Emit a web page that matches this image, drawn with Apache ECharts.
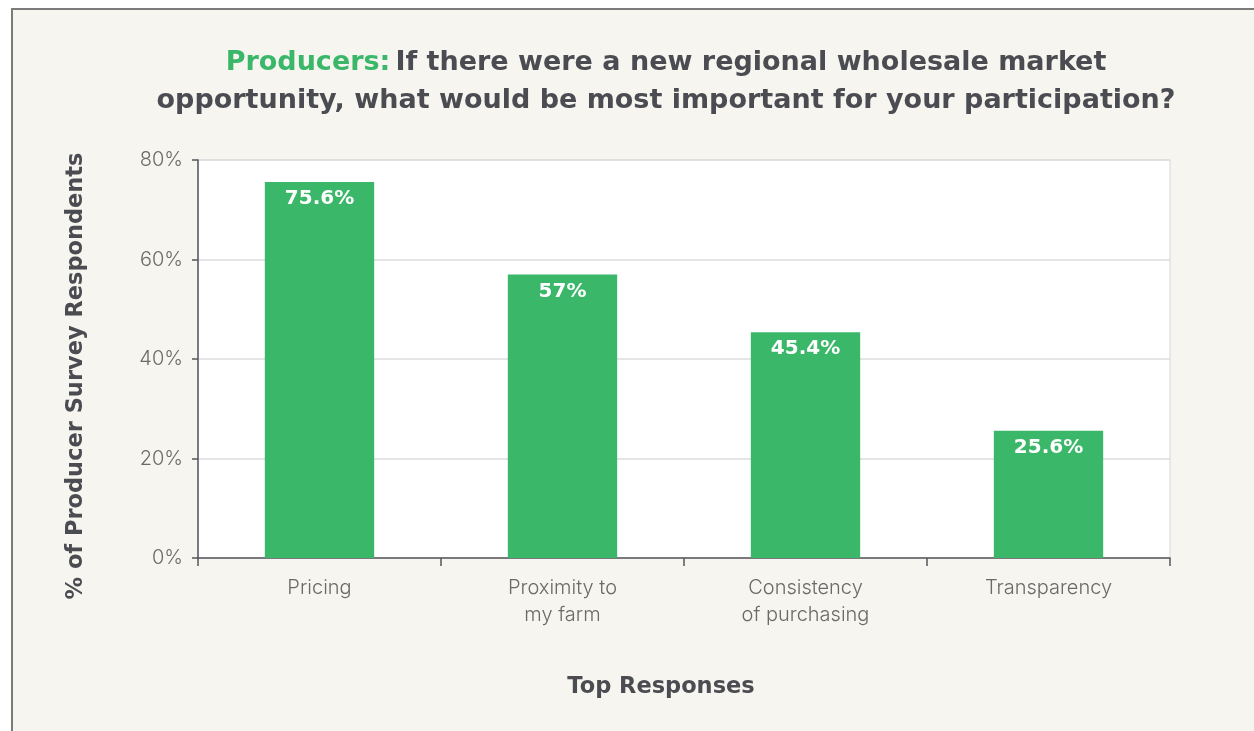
<!DOCTYPE html>
<html>
<head>
<meta charset="utf-8">
<script src="https://cdn.jsdelivr.net/npm/echarts@6/dist/echarts.min.js"></script>
<style>
  html, body { margin: 0; padding: 0; width: 1254px; height: 731px; background: #ffffff; overflow: hidden; }
  #frame { position: absolute; left: 11px; top: 8px; right: 0; bottom: 0;
           background: #f7f5ef; border-left: 2px solid #7b7b7b; border-top: 2px solid #7b7b7b; }
  #chart { position: absolute; left: 0; top: 0; width: 1254px; height: 731px; }
</style>
</head>
<body>
<div id="frame"></div>
<div id="chart"></div>
<script>
// Survey responses
const categories = ['Pricing', 'Proximity to\nmy farm', 'Consistency\nof purchasing', 'Transparency'];
const shares = [75.6, 57, 45.4, 25.6];
const yTickValues = [0, 20, 40, 60, 80];

const GREEN = '#3bb76a';
const DARK = '#4b4c52';
const TICK_GREY = '#6a6a6a';
const BOLD_FONT = '"DejaVu Sans", sans-serif';
const LIGHT_FONT = 'Inter, "Noto Sans", sans-serif';

const chart = echarts.init(document.getElementById('chart'), null, { renderer: 'canvas' });

chart.setOption({
  backgroundColor: 'transparent',
  title: {
    left: 661,
    top: 39,
    textAlign: 'center',
    text: '{g|Producers:} {d|If there were a new regional wholesale market}\n{d|opportunity, what would be most important for your participation?}',
    textStyle: {
      rich: {
        g: { color: GREEN, fontFamily: BOLD_FONT, fontWeight: 'bold', fontSize: 27, lineHeight: 38 },
        d: { color: DARK, fontFamily: BOLD_FONT, fontWeight: 'bold', fontSize: 27, lineHeight: 38 }
      }
    }
  },
  grid: {
    left: 198, right: 84, top: 160, bottom: 173,
    show: true, backgroundColor: '#ffffff', borderColor: '#d6d6d6', borderWidth: 1,
    containLabel: false
  },
  xAxis: {
    type: 'category',
    data: categories,
    axisLine: { lineStyle: { color: '#55565c', width: 1.5 } },
    axisTick: { show: true, length: 8, lineStyle: { color: '#55565c', width: 1.5 } },
    axisLabel: {
      color: TICK_GREY, fontFamily: LIGHT_FONT, fontWeight: 300, fontSize: 20,
      lineHeight: 27, margin: 16
    }
  },
  yAxis: {
    type: 'value',
    min: yTickValues[0],
    max: yTickValues[yTickValues.length - 1],
    interval: yTickValues[1] - yTickValues[0],
    axisLine: { show: true, lineStyle: { color: '#55565c', width: 1.5 } },
    axisTick: { show: true, length: 6, lineStyle: { color: '#55565c', width: 1.5 } },
    axisLabel: {
      color: TICK_GREY, fontFamily: LIGHT_FONT, fontWeight: 300, fontSize: 20, margin: 15,
      formatter: '{value}%'
    },
    splitLine: { show: true, lineStyle: { color: '#dcdcdc', width: 1.5 } }
  },
  graphic: [
    {
      type: 'text', x: 76, y: 376, rotation: Math.PI / 2,
      style: {
        text: '% of Producer Survey Respondents', fill: DARK,
        font: 'bold 22.5px ' + BOLD_FONT, align: 'center', verticalAlign: 'middle'
      }
    },
    {
      type: 'text', x: 661, y: 687,
      style: {
        text: 'Top Responses', fill: DARK,
        font: 'bold 22.5px ' + BOLD_FONT, align: 'center', verticalAlign: 'middle'
      }
    }
  ],
  series: [{
    type: 'bar',
    data: shares,
    barWidth: '45%',
    itemStyle: { color: GREEN },
    label: {
      show: true, position: 'insideTop', distance: 7,
      color: '#ffffff', fontFamily: BOLD_FONT, fontWeight: 'bold', fontSize: 20,
      formatter: '{c}%'
    }
  }],
  animation: false
});
</script>
</body>
</html>
